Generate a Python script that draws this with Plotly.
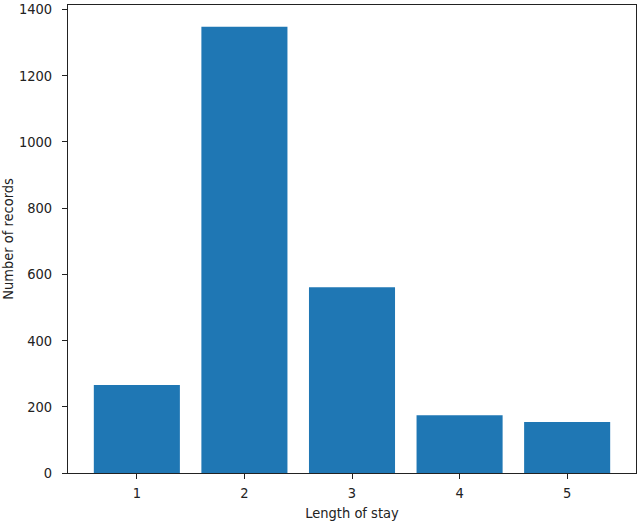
import plotly.graph_objects as go

# length of stay vs number of records
stay_days = [1, 2, 3, 4, 5]
num_records = [266, 1347, 561, 174, 154]
tick_vals_y = [0, 200, 400, 600, 800, 1000, 1200, 1400]

FONT = "DejaVu Sans Condensed, DejaVu Sans"
FSIZE = 14.5
TXT = '#222'

fig = go.Figure()
fig.add_trace(go.Bar(
    x=stay_days,
    y=num_records,
    width=0.8,
    marker=dict(color='#1f77b4', line=dict(width=0)),
))

axis_style = dict(
    showline=True, linecolor=TXT, linewidth=1, mirror=True,
    ticks='outside', ticklen=5, tickcolor=TXT, tickwidth=1,
    showgrid=False, zeroline=False, automargin=False,
    ticklabeloverflow='allow',
    tickfont=dict(family=FONT, size=FSIZE, color=TXT),
)

fig.update_layout(
    width=640, height=526,
    margin=dict(l=68, r=4, t=5, b=53),
    paper_bgcolor='white',
    plot_bgcolor='white',
    showlegend=False,
    font=dict(family=FONT, size=FSIZE, color=TXT),
    xaxis=dict(
        range=[0.36, 5.64],
        tickvals=stay_days,
        ticklabelstandoff=2,
        title=dict(text='Length of stay', standoff=7,
                   font=dict(family=FONT, size=FSIZE, color=TXT)),
        **axis_style,
    ),
    yaxis=dict(
        range=[0, 1413],
        tickvals=tick_vals_y,
        ticklabelstandoff=7,
        title=dict(text='Number of records', standoff=5,
                   font=dict(family=FONT, size=FSIZE, color=TXT)),
        **axis_style,
    ),
)

# page body has a default 8px margin, drop it so the figure sits at 0,0
fig.write_html("out.html", config={'displayModeBar': False},
               post_script="document.body.style.margin='0px';")
